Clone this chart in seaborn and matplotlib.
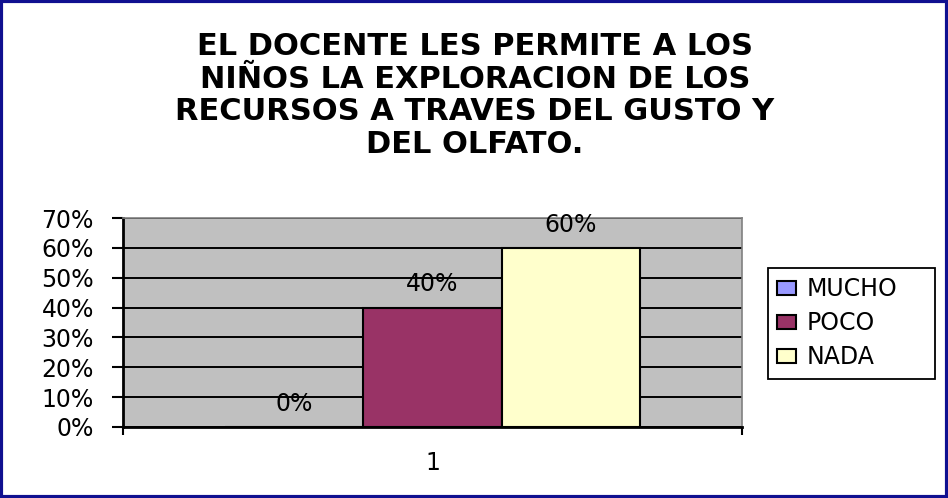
import pandas as pd
import numpy as np
import matplotlib.pyplot as plt
import seaborn as sns
from matplotlib.patches import Rectangle
from matplotlib.ticker import MultipleLocator, PercentFormatter

categorias = ['MUCHO', 'POCO', 'NADA']
valores = [0.0, 0.40, 0.60]
grupo = ['1', '1', '1']
colores = ['#9999FF', '#993366', '#FFFFCC']
titulo = 'EL DOCENTE LES PERMITE A LOS\nNIÑOS LA EXPLORACION DE LOS\nRECURSOS A TRAVES DEL GUSTO Y\nDEL OLFATO.'

data = pd.DataFrame({'grupo': grupo, 'respuesta': categorias, 'valor': valores})

sns.set_style('white')
plt.rcParams['font.family'] = ['DejaVu Sans']
plt.rcParams['text.color'] = 'black'
plt.rcParams['xtick.color'] = 'black'
plt.rcParams['ytick.color'] = 'black'
plt.rcParams['xtick.labelcolor'] = 'black'
plt.rcParams['ytick.labelcolor'] = 'black'

fs = 17

fig = plt.figure(figsize=(9.48, 4.98), dpi=100)
ax = fig.add_axes([0.1297, 0.1426, 0.6530, 0.4196])
ax.set_axisbelow(True)

sns.barplot(data=data, x='grupo', y='valor', hue='respuesta', hue_order=categorias,
            palette=colores, width=0.67, edgecolor='black', linewidth=1.5,
            saturation=1, ax=ax)

for cont in ax.containers:
    ax.bar_label(cont, labels=[f'{v*100:.0f}%' for v in cont.datavalues],
                 padding=8, fontsize=fs, color='black')

ax.set_facecolor('#C0C0C0')
ax.set_ylim(0, 0.70)
ax.set_xlim(-0.5, 0.5)
ax.yaxis.set_major_locator(MultipleLocator(0.10))
ax.yaxis.set_major_formatter(PercentFormatter(1.0, decimals=0))
ax.yaxis.grid(True, color='black', linewidth=1.4)
ax.tick_params(axis='y', which='major', direction='out', length=8, width=1.5,
               color='black', labelsize=fs, pad=13, left=True)

ax.set_xticks([-0.5, 0.5])
ax.set_xticklabels([])
ax.set_xticks([0], labels=['1'], minor=True)
ax.tick_params(axis='x', which='major', direction='out', length=6, width=1.5,
               color='black', bottom=True)
ax.tick_params(axis='x', which='minor', length=0, labelsize=fs, pad=17)
ax.set_xlabel('')
ax.set_ylabel('')

for side in ['left', 'bottom']:
    ax.spines[side].set_color('black')
    ax.spines[side].set_linewidth(2)
for side in ['top', 'right']:
    ax.spines[side].set_visible(True)
    ax.spines[side].set_color('#808080')
    ax.spines[side].set_linewidth(1.2)

handles, labels = ax.get_legend_handles_labels()
leg = ax.legend(handles, labels, loc='upper left',
                bbox_to_anchor=(0.810, 0.245, 0.176, 0.217), mode='expand',
                bbox_transform=fig.transFigure, frameon=True, fancybox=False,
                framealpha=1, edgecolor='black', fontsize=fs, handlelength=0.8,
                handleheight=0.5, handletextpad=0.42, labelspacing=0.42,
                borderpad=0.4, borderaxespad=0)
leg.get_frame().set_linewidth(1.3)

fig.text(0.501, 0.808, titulo, ha='center', va='center', multialignment='center',
         fontsize=22, fontweight='bold', linespacing=1.15, color='black')

fig.patches.append(Rectangle((0.0015, 0.003), 0.997, 0.994, transform=fig.transFigure,
                             fill=False, edgecolor='#101090', linewidth=3))

fig.savefig('out.png', dpi=100)
